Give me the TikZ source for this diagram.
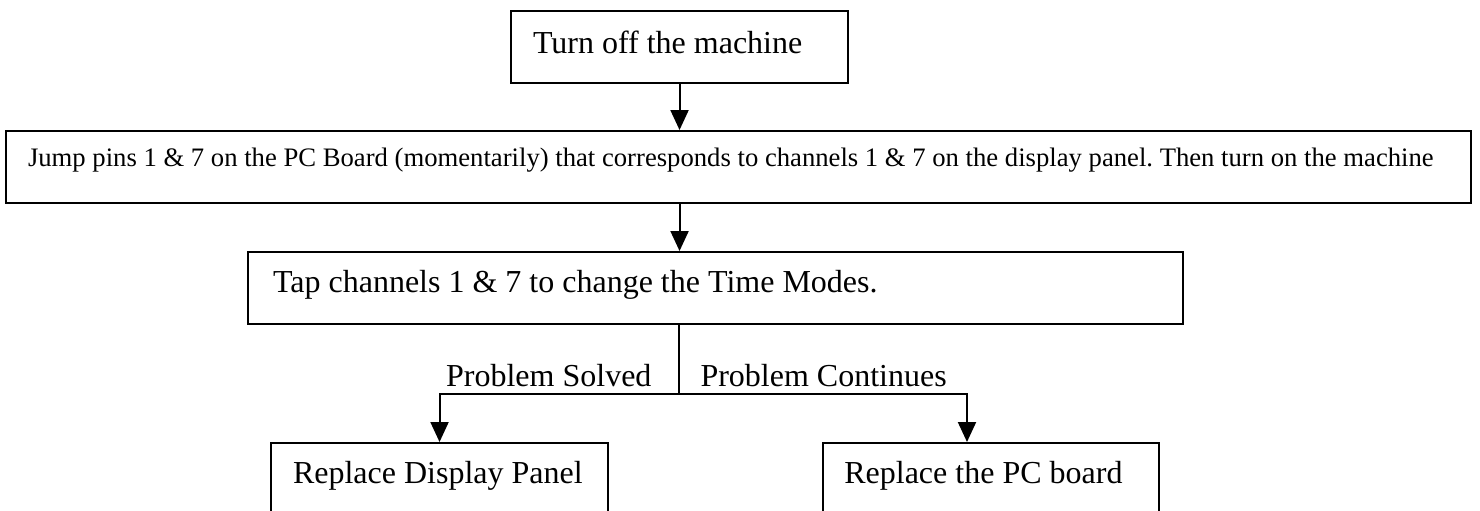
\documentclass[tikz,border=0pt]{standalone}
\usepackage{fontspec}
\setmainfont{Liberation Serif}
\usetikzlibrary{arrows.meta}
\frenchspacing
\begin{document}
\begin{tikzpicture}[x=0.375pt,y=-0.375pt,
  box/.style={draw, line width=0.75pt, rectangle, anchor=north west, inner ysep=0pt,
    minimum height=27pt, font=\fontsize{12pt}{14pt}\selectfont},
  arr/.style={draw, line width=0.75pt, -{Triangle[width=6.75pt,length=7.5pt]}},
  conn/.style={draw, line width=0.75pt},
  lbl/.style={inner sep=0pt, font=\fontsize{12pt}{14pt}\selectfont}]
\useasboundingbox (0,0) rectangle (1480,510);
\node[box, minimum width=126.4pt, inner xsep=8.25pt,
  text height=9pt, text depth=4.5pt] (b1) at (510,10) {\makebox[109.9pt][l]{Turn off the machine}};
\node[box, minimum width=549.4pt, inner xsep=8.25pt,
  text height=7pt, text depth=7.75pt, font=\fontsize{10pt}{12pt}\selectfont] (b2) at (5,130)
  {\makebox[532.9pt][l]{Jump pins 1 \& 7 on the PC Board (momentarily) that corresponds to channels 1 \& 7 on the display panel. Then turn on the machine}};
\node[box, minimum width=350.6pt, inner xsep=9.4pt,
  text height=9pt, text depth=6pt] (b3) at (247,251) {\makebox[331.8pt][l]{Tap channels 1 \& 7 to change the Time Modes.}};
\node[box, minimum width=126.4pt, inner xsep=8.25pt,
  text height=9pt, text depth=6pt] (b4) at (270,442) {\makebox[109.9pt][l]{Replace Display Panel}};
\node[box, minimum width=126pt, inner xsep=8pt,
  text height=9pt, text depth=6pt] (b5) at (822,442) {\makebox[110pt][l]{Replace the PC board}};
\coordinate (split) at (678.5,394);
\coordinate (t5) at (967,442);
\draw[arr] (b1.south) -- (b1.south |- b2.north);
\draw[arr] (b2.south -| b1.south) -- (b3.north -| b1.south);
\draw[conn] (b3.south -| split) -- (split);
\draw[arr] (split) -| (b4.north);
\draw[arr] (split) -| (t5);
\node[lbl, anchor=base east] (ls) at (652,386) {Problem Solved};
\node[lbl, anchor=base west] (lc) at (700,386) {Problem Continues};
\end{tikzpicture}
\end{document}
